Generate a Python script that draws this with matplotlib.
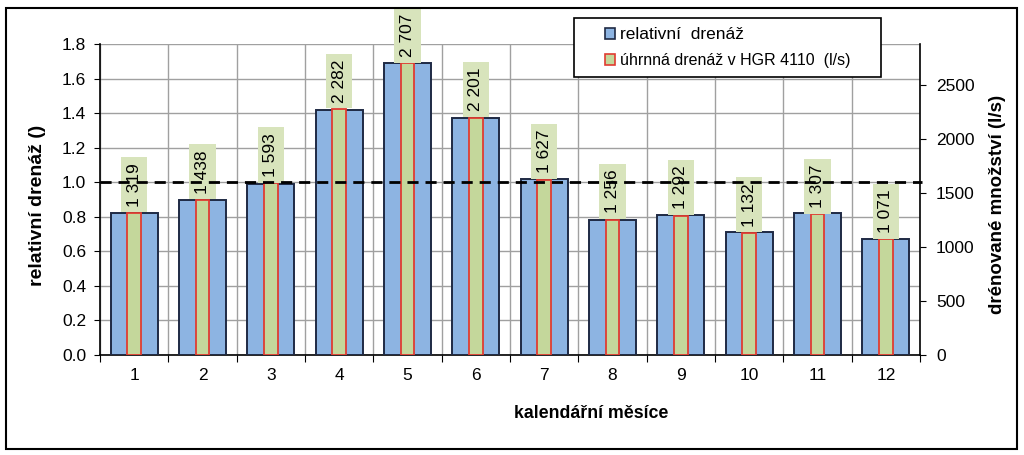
import numpy as np
import matplotlib
matplotlib.use("Agg")
import matplotlib.pyplot as plt
import matplotlib.patches as mpatches
from matplotlib.lines import Line2D
from matplotlib.transforms import blended_transform_factory

plt.rcParams["font.family"] = ["Liberation Sans", "DejaVu Sans"]

# ── Data ──
MONTHS = [1, 2, 3, 4, 5, 6, 7, 8, 9, 10, 11, 12]
REL_DRAIN = [0.82, 0.90, 0.99, 1.42, 1.69, 1.37, 1.02, 0.78, 0.81, 0.71, 0.82, 0.67]
TOTAL_DRAIN = [1319, 1438, 1593, 2282, 2707, 2201, 1627, 1256, 1292, 1132, 1307, 1071]
LEFT_TICKS = [0.0, 0.2, 0.4, 0.6, 0.8, 1.0, 1.2, 1.4, 1.6, 1.8]
RIGHT_TICKS = [0, 500, 1000, 1500, 2000, 2500]

# ── Palette ──
BLUE = "#8DB4E2"
BLUE_EDGE = "#1F2A44"
GREEN = "#C4D79B"
RED = "#E03C31"
LABEL_BG = "#D8E4BC"
GRID = "#A0A0A0"

fig = plt.figure(figsize=(10.24, 4.55), dpi=100)
ax = fig.add_axes([100 / 1024, 1 - 355 / 455, 820 / 1024, 311 / 455])
ax2 = ax.twinx()

x = np.array(MONTHS)

# blue bars - relative drainage (left axis)
ax.bar(x, REL_DRAIN, 0.69, color=BLUE, edgecolor=BLUE_EDGE, linewidth=1.4, zorder=3)
ax.set_ylim(0, 1.8)
ax.set_xlim(0.5, 12.5)
ax.set_yticks(LEFT_TICKS)
ax.set_yticklabels([f"{v:.1f}" for v in LEFT_TICKS])

# green bars - total drainage (right axis), scaled so mean == 1.0
ax2.set_ylim(0, 1.8 * np.mean(TOTAL_DRAIN))
ax2.bar(x, TOTAL_DRAIN, 0.2, color=GREEN, edgecolor=RED, linewidth=1.3, zorder=3)
ax2.set_yticks(RIGHT_TICKS)

for xi, q in zip(x, TOTAL_DRAIN):
    ax2.annotate(f"{q:,}".replace(",", " "), (xi, q), xytext=(0, 4.5),
                 textcoords="offset points", rotation=90, ha="center", va="bottom",
                 fontsize=12.5, annotation_clip=False, zorder=4,
                 bbox=dict(boxstyle="square,pad=0.33", fc=LABEL_BG, ec="none"))

# dashed line at relative drainage 1.0
trans = blended_transform_factory(ax2.transAxes, ax.transData)
ax2.add_line(Line2D([0, 1.003], [1.0, 1.0], transform=trans, color="black",
                    linewidth=2, dashes=(4, 2.5), zorder=6, clip_on=False))

# x ticks at category boundaries, labels at centres
ax.set_xticks(np.arange(0.5, 13, 1))
ax.set_xticklabels([])
ax.set_xticks(x, minor=True)
ax.set_xticklabels([str(m) for m in MONTHS], minor=True)
ax.tick_params(axis="x", which="major", length=5, direction="out", color="black")
ax.tick_params(axis="x", which="minor", length=0, pad=9, labelsize=12.5)
ax.tick_params(axis="y", length=4, pad=6, labelsize=12.5)
ax2.tick_params(axis="y", length=4, pad=7.5, labelsize=12.5)

# grid
ax.grid(axis="y", color=GRID, linewidth=1)
ax.grid(axis="x", which="major", color=GRID, linewidth=1)
ax.set_axisbelow(True)

for s in ["top", "right"]:
    ax.spines[s].set_visible(False)
for s in ["top", "left", "bottom"]:
    ax2.spines[s].set_visible(False)
for sp in [ax.spines["left"], ax.spines["bottom"], ax2.spines["right"]]:
    sp.set_color("black")
    sp.set_linewidth(1.2)

# axis titles
fig.text(38 / 1024, 1 - 205 / 455, "relativní drenáž ()", rotation=90,
         ha="center", va="center", fontsize=14, fontweight="bold")
fig.text(997 / 1024, 1 - 204 / 455, "drénované množství (l/s)", rotation=90,
         ha="center", va="center", fontsize=13.5, fontweight="bold")
fig.text(591 / 1024, 1 - 413 / 455, "kalendářní měsíce",
         ha="center", va="center", fontsize=12.8, fontweight="bold")

# legend with its own box
box = mpatches.Rectangle((574 / 1024, 1 - 77 / 455), 307 / 1024, 59 / 455,
                         transform=fig.transFigure, facecolor="white",
                         edgecolor="black", linewidth=1.2, zorder=10)
fig.patches.append(box)
handles = [
    mpatches.Patch(facecolor=BLUE, edgecolor=BLUE_EDGE, linewidth=1.2),
    mpatches.Patch(facecolor=GREEN, edgecolor=RED, linewidth=1.2),
]
leg = fig.legend(handles, ["relativní  drenáž", "úhrnná drenáž v HGR 4110  (l/s)"],
                 loc="center", bbox_to_anchor=(727.5 / 1024, 1 - 47.5 / 455),
                 frameon=False, fontsize=11.5, handlelength=0.65, handleheight=0.65,
                 handletextpad=0.3, labelspacing=0.7)
leg.get_texts()[0].set_fontsize(12.5)
leg.set_zorder(11)

# outer chart border
fig.patches.append(mpatches.Rectangle((6 / 1024, 6 / 455), 1011 / 1024, 441 / 455,
                                      transform=fig.transFigure, fill=False,
                                      edgecolor="black", linewidth=1.5, zorder=12))

fig.savefig("out.png", dpi=100, facecolor="white")
